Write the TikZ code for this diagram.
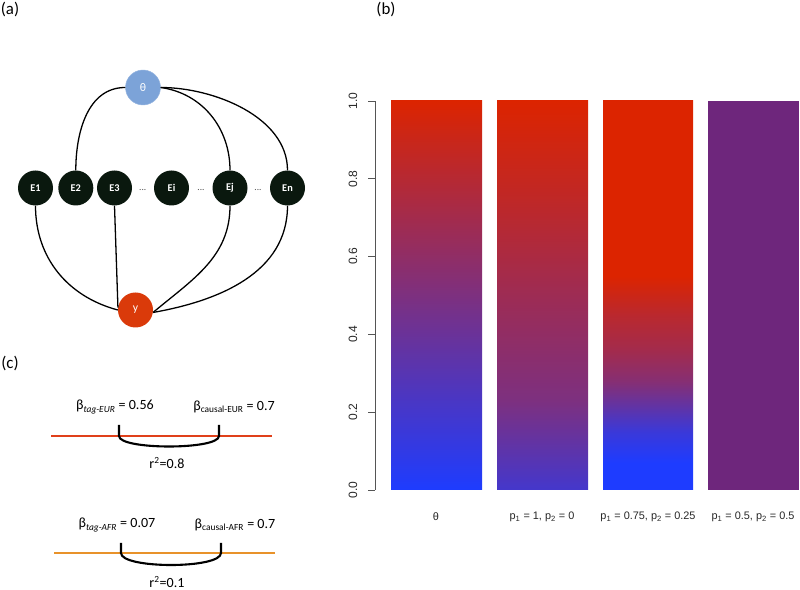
\documentclass[tikz,border=0pt]{standalone}
\usepackage{fontspec}
\setmainfont{Carlito}
\newfontfamily\plotfont{Liberation Sans}
\usetikzlibrary{calc}

\definecolor{thetablue}{RGB}{124,163,216}
\definecolor{nodeblack}{RGB}{10,24,14}
\definecolor{ynode}{RGB}{218,58,10}
\definecolor{barred}{RGB}{220,36,0}
\definecolor{barblue}{RGB}{30,60,255}
\definecolor{barpurple}{RGB}{110,38,124}
\definecolor{eurline}{RGB}{224,64,26}
\definecolor{afrline}{RGB}{232,146,42}
\definecolor{axisgray}{RGB}{85,85,85}

% stops for the two mixed bars
\colorlet{mixa}{barred!20!barblue}
\colorlet{mixb}{barred!50!barblue}
\colorlet{mixc}{barred!67!barblue}
\colorlet{mixd}{barred!85!barblue}
\colorlet{mixe}{barred!15!barblue}
\colorlet{mixf}{barred!40!barblue}
\colorlet{mixg}{barred!55!barblue}
\colorlet{mixh}{barred!70!barblue}
\colorlet{mixi}{barred!82!barblue}

\pgfdeclareverticalshading{thetashade}{100bp}{color(0bp)=(barblue); color(25bp)=(barblue); color(75bp)=(barred); color(100bp)=(barred)}
\pgfdeclareverticalshading{ponezero}{100bp}{color(0bp)=(mixa); color(25bp)=(mixa); color(36.5bp)=(mixb); color(50bp)=(mixc); color(62.5bp)=(mixd); color(75bp)=(barred); color(100bp)=(barred)}
\pgfdeclareverticalshading{pthreequarter}{100bp}{color(0bp)=(barblue); color(28.5bp)=(barblue); color(32.5bp)=(mixe); color(36.5bp)=(mixf); color(39bp)=(mixg); color(43bp)=(mixh); color(47.5bp)=(mixi); color(52.5bp)=(barred); color(100bp)=(barred)}

\tikzset{
  enode/.style={circle, fill=nodeblack, minimum size=1.05cm, inner sep=0pt, text=white, font=\fontsize{8.8}{10}\selectfont\bfseries},
  dotnode/.style={font=\fontsize{8}{10}\selectfont, text=black!70},
  edge/.style={line width=1.1pt, black},
  panel/.style={font=\fontsize{14.4}{16}\selectfont},
  ticklabel/.style={font=\plotfont\fontsize{10.3}{12}\selectfont, rotate=90, text=black!85},
  barlabel/.style={font=\plotfont\fontsize{9.3}{11}\selectfont, text=black!85},
  betalabel/.style={font=\fontsize{12}{14}\selectfont},
  bracket/.style={line width=1.8pt, black}
}

\begin{document}
\begin{tikzpicture}[x=0.03cm, y=0.03cm]
  \useasboundingbox (0,0) rectangle (800,590);

  %%%%% (a) %%%%%
  \node[panel] (pa) at (10,580) {(a)};

  \node[circle, fill=thetablue, draw=thetablue!80!white, minimum size=1.05cm, inner sep=0pt, text=white] (theta) at (143,502.5) {θ};

  \node[enode] (E1) at (35.5,402) {E1};
  \node[enode] (E2) at (75.8,402) {E2};
  \node[enode] (E3) at (114.5,402) {E3};
  \node[dotnode] (d1) at (142.7,400) {...};
  \node[enode] (Ei) at (171.5,402) {Ei};
  \node[dotnode] (d2) at (201,400) {...};
  \node[enode] (Ej) at (230,402) {Ej};
  \node[dotnode] (d3) at (258,400) {...};
  \node[enode] (En) at (287.5,402) {En};

  \node[circle, fill=ynode, minimum size=1.05cm, inner sep=0pt, text=white] (y) at (135.5,280) {y};

  \draw[edge] (theta.west) to[out=180, in=90] (E2.north);
  \draw[edge] (theta.east) to[out=-8, in=90] (Ej.north);
  \draw[edge] (theta.east) to[out=0, in=90, looseness=0.9] (En.north);
  \draw[edge] (E1.south) to[out=-90, in=165] (y.west);
  \draw[edge] (E3.south) -- (y.172);
  \draw[edge] (Ej.south) to[out=-90, in=40] (y.-8);
  \draw[edge] (En.south) to[out=-90, in=10] (y.-8);

  %%%%% (b) %%%%%
  \node[panel] (pb) at (386,580) {(b)};

  \draw[axisgray, line width=0.8pt] (375,100) -- (375,489);
  \foreach \v/\t in {0/0.0,1/0.2,2/0.4,3/0.6,4/0.8,5/1.0}{
    \draw[axisgray, line width=0.8pt] (368,100+77.8*\v) -- (375,100+77.8*\v);
    \node[ticklabel] at (353,100+77.8*\v) {\t};
  }

  \shade[shading=thetashade] (391,100) rectangle (482,489);
  \shade[shading=ponezero] (497,100) rectangle (588,489);
  \shade[shading=pthreequarter] (603,100) rectangle (693,489);
  \fill[barpurple] (708,100) rectangle (799,489);

  \node[barlabel] (lt) at (436,73) {θ};
  \node[barlabel] (la) at (542,73) {p\textsubscript{1} = 1, p\textsubscript{2} = 0};
  \node[barlabel] (lb) at (648,73) {p\textsubscript{1} = 0.75, p\textsubscript{2} = 0.25};
  \node[barlabel] (lc) at (753,73) {p\textsubscript{1} = 0.5, p\textsubscript{2} = 0.5};

  %%%%% (c) %%%%%
  \node[panel] (pc) at (10,226) {(c)};

  % EUR
  \coordinate (eurL) at (51,154);
  \coordinate (eurR) at (272,154);
  \coordinate (eurA) at (119,154);
  \coordinate (eurB) at (219,154);
  \draw[eurline, line width=2.4pt] (eurL) -- (eurR);
  \draw[bracket] ($(eurA)+(0,11)$) -- (eurA) .. controls +(0,-14) and +(0,-14) .. (eurB) -- ($(eurB)+(0,11)$);
  \node[betalabel] (tageur) at (115,183) {β\textsubscript{\textit{tag-EUR}} = 0.56};
  \node[betalabel] (causeur) at (234,183) {β\textsubscript{causal-EUR} = 0.7};
  \node[betalabel] (reur) at (167,127) {r\textsuperscript{2}=0.8};

  % AFR
  \coordinate (afrL) at (54,37);
  \coordinate (afrR) at (275,37);
  \coordinate (afrA) at (121,37);
  \coordinate (afrB) at (221,37);
  \draw[afrline, line width=2.4pt] (afrL) -- (afrR);
  \draw[bracket] ($(afrA)+(0,10)$) -- (afrA) .. controls +(0,-16) and +(0,-16) .. (afrB) -- ($(afrB)+(0,10)$);
  \node[betalabel] (tagafr) at (117,65) {β\textsubscript{\textit{tag-AFR}} = 0.07};
  \node[betalabel] (causafr) at (235,65) {β\textsubscript{causal-AFR} = 0.7};
  \node[betalabel] (rafr) at (167,8) {r\textsuperscript{2}=0.1};
\end{tikzpicture}
\end{document}
